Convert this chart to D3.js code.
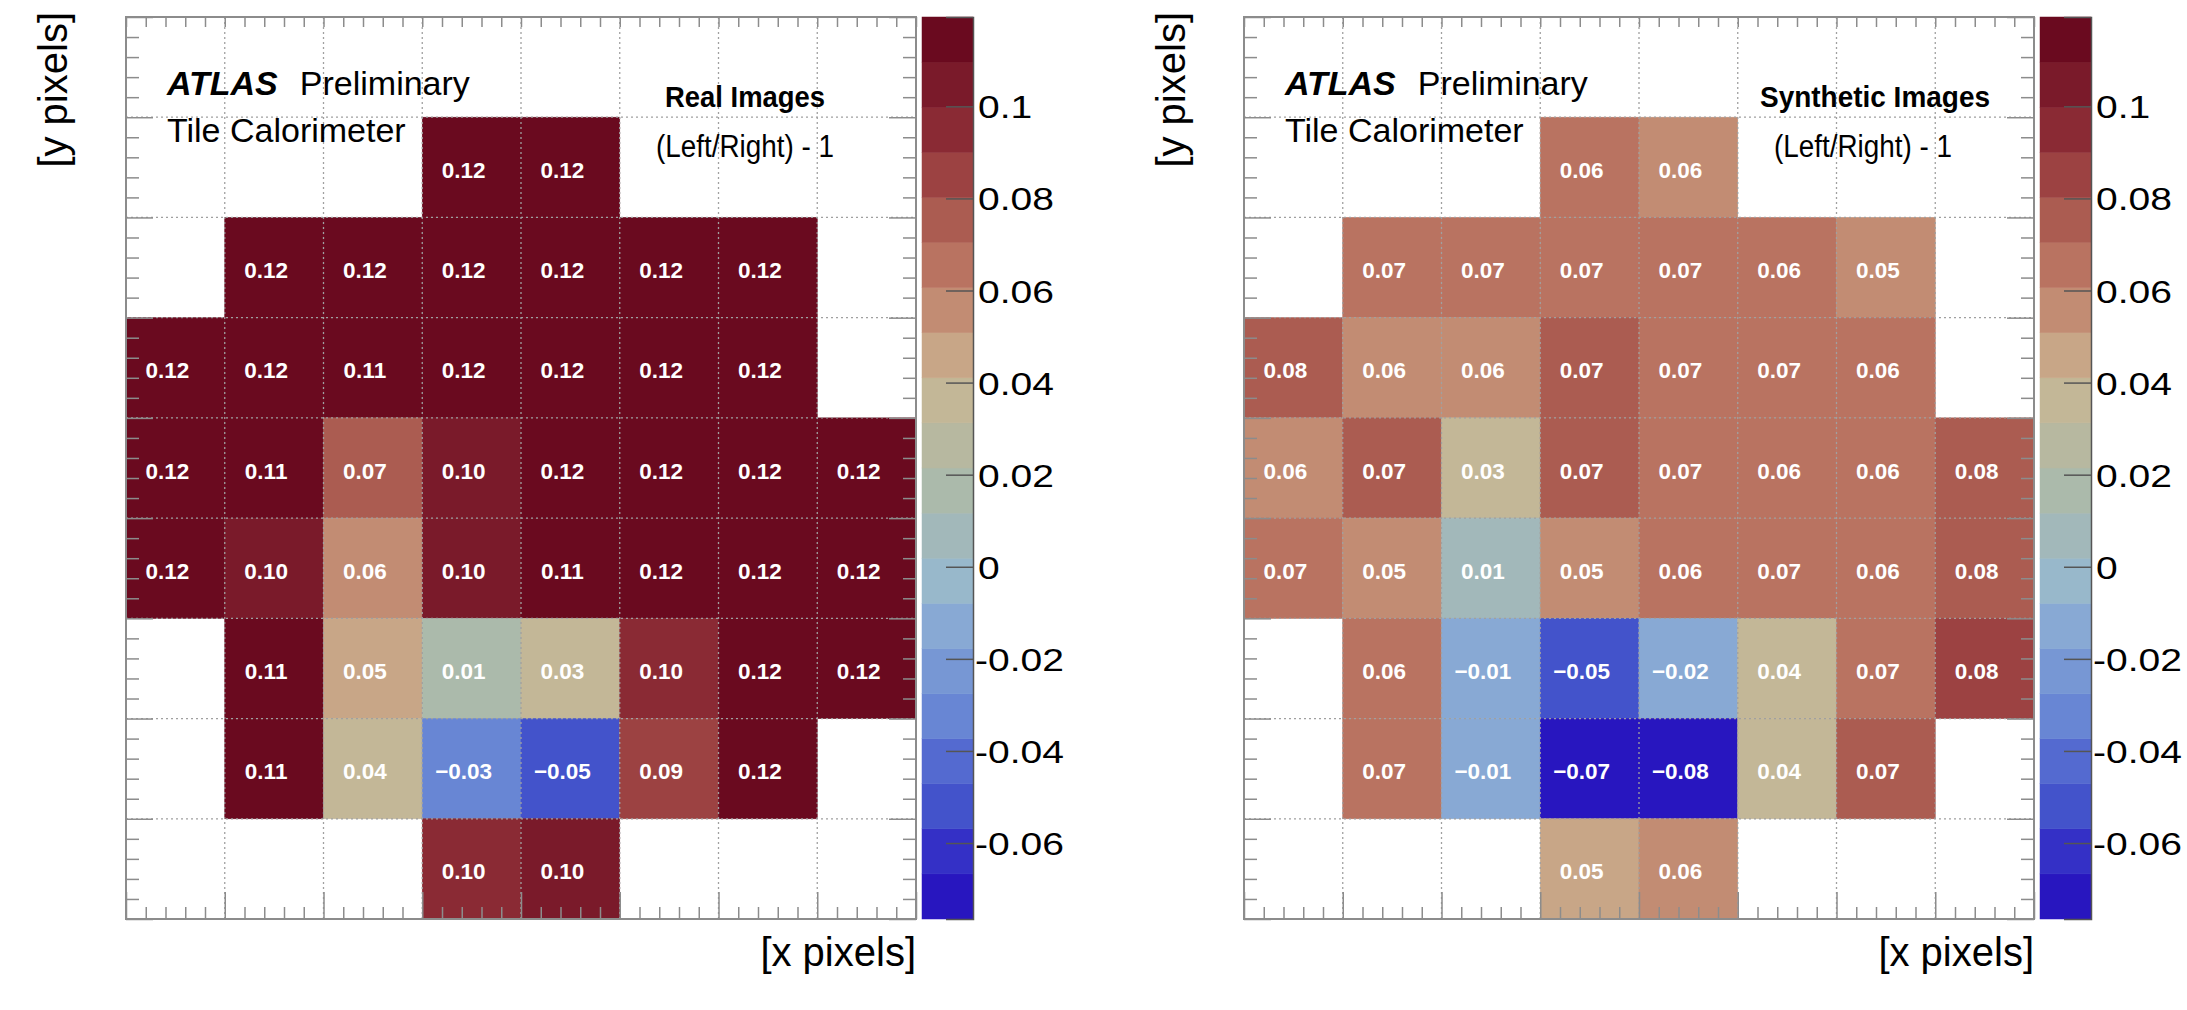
<!DOCTYPE html>
<html>
<head>
<meta charset="utf-8">
<script src="https://cdn.jsdelivr.net/npm/d3@7"></script>
<style>
  html, body { margin: 0; padding: 0; background: #ffffff; }
  svg { display: block; font-family: "Liberation Sans", Arial, Helvetica, sans-serif; }
</style>
</head>
<body>
<svg id="chart" width="2187" height="1010"></svg>
<script>
// ---------------- data ----------------
const nCols = 8;
const nRows = 9;
// rows listed top -> bottom, columns left -> right, null = empty bin
const realValues = [
  [null, null, null, null, null, null, null, null],
  [null, null, null, 0.118, 0.118, null, null, null],
  [null, 0.118, 0.118, 0.118, 0.118, 0.118, 0.118, null],
  [0.118, 0.118, 0.111, 0.118, 0.118, 0.118, 0.118, null],
  [0.118, 0.112, 0.072, 0.101, 0.118, 0.118, 0.118, 0.118],
  [0.118, 0.102, 0.058, 0.101, 0.111, 0.118, 0.118, 0.118],
  [null, 0.112, 0.047, 0.013, 0.033, 0.097, 0.118, 0.118],
  [null, 0.112, 0.038, -0.031, -0.050, 0.088, 0.118, null],
  [null, null, null, 0.097, 0.101, null, null, null]
];
const synthValues = [
  [null, null, null, null, null, null, null, null],
  [null, null, null, 0.062, 0.057, null, null, null],
  [null, 0.067, 0.067, 0.067, 0.067, 0.062, 0.054, null],
  [0.078, 0.058, 0.058, 0.072, 0.068, 0.068, 0.063, null],
  [0.058, 0.072, 0.032, 0.072, 0.068, 0.063, 0.063, 0.078],
  [0.068, 0.052, 0.008, 0.053, 0.062, 0.068, 0.063, 0.078],
  [null, 0.062, -0.010, -0.050, -0.016, 0.038, 0.068, 0.083],
  [null, 0.067, -0.010, -0.070, -0.0762, 0.038, 0.072, null],
  [null, null, null, 0.048, 0.056, null, null, null]
];
const zMin = -0.0765;
const zMax = 0.1194;
// 20 contour colours, lowest -> highest
const paletteColors = [
  "#2816bf", "#3430c6", "#4353cb", "#546ad0", "#6886d4",
  "#7797d4", "#88a9d4", "#98b8cb", "#a2b8ba", "#abbaab",
  "#b7b8a0", "#c3b797", "#c8a687", "#c28c73", "#b97361",
  "#ab5c51", "#9c4242", "#8a2a34", "#7a1a2a", "#6a0a1f"
];
const colorbarTicks = [0.1, 0.08, 0.06, 0.04, 0.02, 0, -0.02, -0.04, -0.06];
const colorbarTickLabels = ["0.1", "0.08", "0.06", "0.04", "0.02", "0", "-0.02", "-0.04", "-0.06"];
const panelTitles = ["Real Images", "Synthetic Images"];
const subTitle = "(Left/Right) - 1";
const xTitle = "[x pixels]";
const yTitle = "[y pixels]";

// ---------------- layout ----------------
const svg = d3.select("#chart");
const frameTop = 17, frameBottom = 919, frameW = 790;
const panels = [
  { x0: 126, values: realValues, title: panelTitles[0], titleDx: 539, titleLen: 160 },
  { x0: 1244, values: synthValues, title: panelTitles[1], titleDx: 516, titleLen: 230 }
];
const color = d3.scaleQuantize().domain([zMin, zMax]).range(paletteColors);
const fmt = d3.format(".2f");
const frameColor = "#8c8c8c";
const cbLabelStretch = 1.22;

panels.forEach(p => {
  const x = d3.scaleLinear().domain([0, nCols]).range([p.x0, p.x0 + frameW]);
  const y = d3.scaleLinear().domain([0, nRows]).range([frameTop, frameBottom]); // row index from top
  const g = svg.append("g");

  const cells = [];
  p.values.forEach((row, r) => row.forEach((v, c) => { if (v !== null) cells.push({ r, c, v }); }));

  // cells
  g.selectAll("rect.cell").data(cells).enter().append("rect")
    .attr("class", "cell")
    .attr("x", d => x(d.c))
    .attr("y", d => y(d.r))
    .attr("width", d => x(d.c + 1) - x(d.c))
    .attr("height", d => y(d.r + 1) - y(d.r))
    .attr("fill", d => color(d.v))
    .attr("stroke", d => color(d.v))
    .attr("stroke-width", 0.6);

  // dotted grid
  const gg = g.append("g").attr("stroke", "#a0a0a0").attr("stroke-width", 1.3).attr("stroke-dasharray", "2,3");
  d3.range(1, nCols).forEach(i => gg.append("line")
    .attr("x1", x(i)).attr("x2", x(i)).attr("y1", frameTop).attr("y2", frameBottom));
  d3.range(1, nRows).forEach(i => gg.append("line")
    .attr("y1", y(i)).attr("y2", y(i)).attr("x1", p.x0).attr("x2", p.x0 + frameW));

  // axes ticks (inward)
  const xMajor = d3.range(0, nCols + 1);
  const xMinor = d3.range(0, nCols * 5 + 1).map(i => i / 5).filter(v => Math.abs(v - Math.round(v)) > 1e-6);
  const yMajor = d3.range(0, nRows + 1);
  const yMinor = d3.range(0, nRows * 5 + 1).map(i => i / 5).filter(v => Math.abs(v - Math.round(v)) > 1e-6);

  const axes = [
    [d3.axisBottom(x).tickValues(xMinor).tickSize(-12), `translate(0,${frameBottom})`],
    [d3.axisBottom(x).tickValues(xMajor).tickSize(-27), `translate(0,${frameBottom})`],
    [d3.axisTop(x).tickValues(xMinor).tickSize(-10), `translate(0,${frameTop})`],
    [d3.axisTop(x).tickValues(xMajor).tickSize(-10), `translate(0,${frameTop})`],
    [d3.axisLeft(y).tickValues(yMinor).tickSize(-13), `translate(${p.x0},0)`],
    [d3.axisLeft(y).tickValues(yMajor).tickSize(-27), `translate(${p.x0},0)`],
    [d3.axisRight(y).tickValues(yMinor).tickSize(-13), `translate(${p.x0 + frameW},0)`],
    [d3.axisRight(y).tickValues(yMajor).tickSize(-27), `translate(${p.x0 + frameW},0)`]
  ];
  axes.forEach(([ax, tr]) => {
    const a = g.append("g").attr("transform", tr).call(ax.tickFormat(""));
    a.select(".domain").remove();
    a.selectAll(".tick line").attr("stroke", frameColor).attr("stroke-width", 1.5);
  });

  // frame
  g.append("rect").attr("x", p.x0).attr("y", frameTop).attr("width", frameW).attr("height", frameBottom - frameTop)
    .attr("fill", "none").attr("stroke", frameColor).attr("stroke-width", 2);

  // cell labels
  g.selectAll("text.val").data(cells).enter().append("text")
    .attr("class", "val")
    .attr("x", d => (x(d.c) + x(d.c + 1)) / 2 - 8)
    .attr("y", d => (y(d.r) + y(d.r + 1)) / 2 + 10.5)
    .attr("text-anchor", "middle")
    .attr("fill", "#ffffff")
    .attr("font-weight", "bold")
    .attr("font-size", 22.5)
    .text(d => fmt(d.v));

  // annotations
  const atl = g.append("text").attr("x", p.x0 + 41).attr("y", 95).attr("font-size", 34).attr("fill", "#000");
  atl.append("tspan").attr("font-weight", "bold").attr("font-style", "italic").text("ATLAS");
  atl.append("tspan").attr("dx", 22).text("Preliminary");
  g.append("text").attr("x", p.x0 + 41).attr("y", 142).attr("font-size", 34).attr("fill", "#000").text("Tile Calorimeter");
  g.append("text").attr("x", p.x0 + p.titleDx).attr("y", 107).attr("font-size", 30).attr("font-weight", "bold")
    .attr("textLength", p.titleLen).attr("lengthAdjust", "spacingAndGlyphs")
    .attr("fill", "#000").text(p.title);
  g.append("text").attr("x", p.x0 + 530).attr("y", 157).attr("font-size", 31)
    .attr("textLength", 178).attr("lengthAdjust", "spacingAndGlyphs")
    .attr("fill", "#000").text(subTitle);

  // axis titles
  g.append("text").attr("x", p.x0 + frameW).attr("y", 966).attr("text-anchor", "end")
    .attr("font-size", 40).attr("fill", "#000").text(xTitle);
  g.append("text").attr("transform", `translate(${p.x0 - 59},12) rotate(-90)`).attr("text-anchor", "end")
    .attr("font-size", 40).attr("fill", "#000").text(yTitle);

  // colour bar
  const cbX = p.x0 + frameW + 6, cbW = 51;
  const z = d3.scaleLinear().domain([zMin, zMax]).range([frameBottom, frameTop]);
  const step = (zMax - zMin) / paletteColors.length;
  const cb = svg.append("g");
  cb.selectAll("rect").data(paletteColors).enter().append("rect")
    .attr("x", cbX).attr("width", cbW)
    .attr("y", (d, i) => z(zMin + (i + 1) * step))
    .attr("height", (d, i) => z(zMin + i * step) - z(zMin + (i + 1) * step))
    .attr("fill", d => d).attr("stroke", d => d).attr("stroke-width", 0.5);
  const zAxis = d3.axisRight(z).tickValues(colorbarTicks).tickSize(-27).tickPadding(0)
    .tickFormat((d, i) => colorbarTickLabels[i]);
  const za = cb.append("g").attr("transform", `translate(${cbX + cbW},0)`).call(zAxis);
  za.select(".domain").attr("stroke", "#555").attr("stroke-width", 1.5);
  za.selectAll(".tick line").attr("stroke", "#555").attr("stroke-width", 1.5);
  za.selectAll(".tick text")
    .attr("x", d => (d < 0 ? 2 : 5) / cbLabelStretch).attr("dy", "0.36em")
    .attr("transform", `scale(${cbLabelStretch},1)`)
    .attr("font-size", 32)
    .attr("fill", "#000").attr("font-family", "Liberation Sans, Arial, sans-serif");
});
</script>
</body>
</html>
